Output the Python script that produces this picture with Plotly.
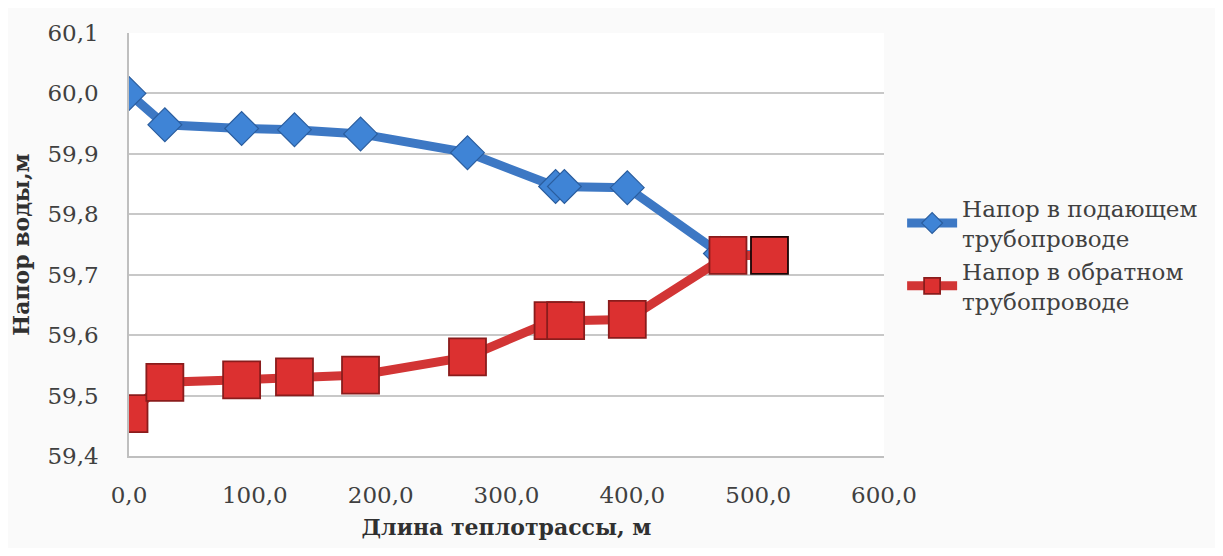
import plotly.graph_objects as go

# Data
x_supply = [0, 28.5, 89.5, 131.5, 184, 269, 339, 346, 396, 470, 505]
y_supply = [60.000, 59.948, 59.942, 59.940, 59.933, 59.902, 59.846, 59.846, 59.844, 59.735, 59.732]

x_return = [0, 28.5, 89.5, 131.5, 184, 269, 337, 347, 396, 476, 509]
y_return = [59.470, 59.522, 59.526, 59.531, 59.534, 59.564, 59.624, 59.624, 59.626, 59.732, 59.732]

name_supply = "Напор в подающем<br>трубопроводе"
name_return = "Напор в обратном<br>трубопроводе"
x_title = "Длина теплотрассы, м"
y_title = "Напор воды,м"

font_family = "DejaVu Serif, serif"

red_edges = ["#8a1c1c"] * (len(x_return) - 1) + ["#1a0505"]

fig = go.Figure()
fig.add_trace(go.Scatter(
    x=x_supply, y=y_supply, name=name_supply, mode="lines+markers",
    line=dict(color="#3d78c4", width=9),
    marker=dict(symbol="diamond", size=26, color="#3f84d6",
                line=dict(color="#2a5d9e", width=1.2)),
))
fig.add_trace(go.Scatter(
    x=x_return, y=y_return, name=name_return, mode="lines+markers",
    line=dict(color="#d23535", width=9),
    marker=dict(symbol="square", size=37, color="#dc3030",
                line=dict(color=red_edges, width=1.8)),
))

W, H = 1207, 540
L, PW = 119, 763
fig.update_layout(
    width=W, height=H,
    margin=dict(l=L, r=W - L - PW, t=17, b=H - 460),
    paper_bgcolor="#fafafa", plot_bgcolor="#ffffff",
    separators=", ",
    font=dict(family=font_family, size=23, color="#404040"),
    showlegend=True,
    legend=dict(x=1.024, y=0.476, xanchor="left", yanchor="middle",
                font=dict(family=font_family, size=23, color="#404040"),
                bgcolor="rgba(0,0,0,0)", tracegroupgap=12, itemwidth=50),
    xaxis=dict(range=[0, 600], dtick=100, tick0=0, tickformat=".1f",
               showgrid=False, zeroline=False, showline=True,
               linecolor="#bfbfbf", linewidth=1.5,
               ticks="", ticklabelstandoff=18,
               tickfont=dict(family=font_family, size=23, color="#404040"),
               title=dict(text="<b>" + x_title + "</b>", standoff=12,
                          font=dict(family=font_family, size=22, color="#303030"))),
    yaxis=dict(range=[59.4, 60.1], dtick=0.1, tick0=59.4, tickformat=".1f",
               showgrid=True, gridcolor="#c8c8c8", gridwidth=1.5,
               zeroline=False, showline=True, linecolor="#bfbfbf", linewidth=1.5,
               ticks="", ticklabelstandoff=24,
               tickfont=dict(family=font_family, size=23, color="#404040"),
               title=dict(text="<b>" + y_title + "</b>", standoff=12,
                          font=dict(family=font_family, size=22, color="#303030"))),
)

fig.write_html("out.html")
